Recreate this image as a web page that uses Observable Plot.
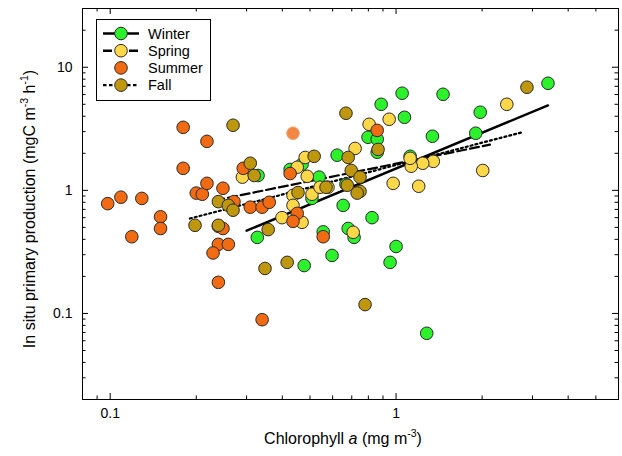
<!DOCTYPE html>
<html><head><meta charset="utf-8">
<script src="https://cdn.jsdelivr.net/npm/d3@7"></script>
<script src="https://cdn.jsdelivr.net/npm/@observablehq/plot@0.6"></script>
<style>
body{margin:0;background:#fff;}
#chart{position:relative;width:622px;height:456px;}
</style></head><body><div id="chart"></div>
<script>
const seasons = ["Winter", "Spring", "Summer", "Fall"];
const seasonColors = ["#2cf22c", "#ffd84a", "#f26b12", "#bf970c"];

const winterChl = [3.40, 1.05, 0.887, 1.46, 1.07, 1.97, 1.90, 1.34, 0.798, 0.859, 0.859, 0.622, 1.12, 0.668, 0.538, 0.469, 0.426, 0.329, 0.508, 0.653, 0.556, 0.597, 0.477, 0.327, 0.824, 0.680, 0.713, 1.00, 0.953, 1.28];
const winterPP  = [7.41, 6.15, 5.00, 6.03, 3.92, 4.31, 2.91, 2.75, 2.70, 2.60, 2.04, 1.93, 1.89, 1.12, 1.28, 1.63, 1.48, 1.32, 0.86, 0.755, 0.46, 0.296, 0.245, 0.415, 0.60, 0.49, 0.415, 0.35, 0.26, 0.069];

const springChl = [2.44, 2.01, 0.805, 0.946, 0.719, 1.35, 1.24, 1.13, 1.12, 0.977, 1.20, 0.481, 0.489, 0.508, 0.542, 0.451, 0.290, 0.436, 0.436, 0.399, 0.469, 0.578, 0.708];
const springPP  = [5.00, 1.45, 3.44, 3.78, 2.19, 1.72, 1.66, 1.57, 1.82, 1.14, 1.08, 1.85, 1.30, 0.93, 1.06, 1.54, 1.28, 0.91, 0.755, 0.60, 0.55, 1.06, 0.456];

const summerChl = [0.098, 0.109, 0.129, 0.119, 0.150, 0.150, 0.180, 0.218, 0.180, 0.200, 0.210, 0.218, 0.248, 0.292, 0.239, 0.248, 0.239, 0.259, 0.229, 0.239, 0.340, 0.271, 0.309, 0.340, 0.360, 0.426, 0.451, 0.436, 0.556, 0.859];
const summerPP  = [0.78, 0.88, 0.86, 0.42, 0.61, 0.49, 3.25, 2.50, 1.51, 0.95, 0.93, 1.14, 1.04, 1.51, 0.51, 0.49, 0.364, 0.364, 0.31, 0.179, 0.089, 0.81, 0.73, 0.73, 0.80, 1.37, 0.65, 0.56, 0.42, 3.07];
const summerFadedChl = [0.436];
const summerFadedPP  = [2.91];

const fallChl = [2.87, 0.668, 0.269, 0.309, 0.319, 0.239, 0.259, 0.269, 0.198, 0.239, 0.357, 0.348, 0.416, 0.779, 0.517, 0.680, 0.865, 0.697, 0.748, 0.748, 0.731, 0.569, 0.454, 0.675];
const fallPP  = [6.88, 4.23, 3.38, 1.66, 1.32, 0.81, 0.755, 0.69, 0.52, 0.52, 0.48, 0.232, 0.26, 0.118, 1.89, 1.85, 2.15, 1.45, 1.28, 0.98, 0.95, 1.06, 0.96, 1.10];

// regression line end points
const winterFitChl = [0.30, 3.40];
const winterFitPP  = [0.47, 4.9];
const springFitChl = [0.233, 2.13];
const springFitPP  = [0.83, 2.35];
const fallFitChl   = [0.19, 2.76];
const fallFitPP    = [0.59, 2.96];

// axis ticks
const xMajorTicks = [0.1, 1];
const xMinorTicks = [0.09, 0.2, 0.3, 0.4, 0.5, 0.6, 0.7, 0.8, 0.9, 2, 3, 4, 5];
const yMajorTicks = [0.1, 1, 10];
const yMinorTicks = [0.03, 0.04, 0.05, 0.06, 0.07, 0.08, 0.09, 0.2, 0.3, 0.4, 0.5, 0.6, 0.7, 0.8, 0.9, 2, 3, 4, 5, 6, 7, 8, 9, 20];

const W = 622, H = 456, mL = 82, mR = 4, mT = 8, mB = 57;
const innerW = W - mL - mR, innerH = H - mT - mB;

function pts(season, xs, ys) { return xs.map((x, i) => ({season, chl: x, pp: ys[i]})); }
const points = [
  ...pts("Winter", winterChl, winterPP),
  ...pts("Spring", springChl, springPP),
  ...pts("Summer", summerChl, summerPP),
  ...pts("Fall", fallChl, fallPP)
];
const faded = pts("Summer", summerFadedChl, summerFadedPP);
const fit = (xs, ys) => xs.map((x, i) => ({chl: x, pp: ys[i]}));

const majLen = 6, minLen = 3.5;
const plot = Plot.plot({
  width: W, height: H,
  marginLeft: mL, marginRight: mR, marginTop: mT, marginBottom: mB,
  style: {fontFamily: "'Liberation Sans', Arial, sans-serif", fontSize: "14px", background: "#fff", color: "#000"},
  x: {type: "log", domain: [0.08, 6]},
  y: {type: "log", domain: [0.02, 30]},
  color: {domain: seasons, range: seasonColors},
  marks: [
    Plot.tickX(xMinorTicks, {x: d => d, insetTop: innerH - minLen, stroke: "#000"}),
    Plot.tickX(xMinorTicks, {x: d => d, insetBottom: innerH - minLen, stroke: "#000"}),
    Plot.tickX(xMajorTicks, {x: d => d, insetTop: innerH - majLen, stroke: "#000"}),
    Plot.tickX(xMajorTicks, {x: d => d, insetBottom: innerH - majLen, stroke: "#000"}),
    Plot.tickY(yMinorTicks, {y: d => d, insetRight: innerW - minLen, stroke: "#000"}),
    Plot.tickY(yMinorTicks, {y: d => d, insetLeft: innerW - minLen, stroke: "#000"}),
    Plot.tickY(yMajorTicks, {y: d => d, insetRight: innerW - majLen, stroke: "#000"}),
    Plot.tickY(yMajorTicks, {y: d => d, insetLeft: innerW - majLen, stroke: "#000"}),
    Plot.axisX({ticks: xMajorTicks, tickSize: 0, tickPadding: 9, tickFormat: d => String(d), label: null, fontSize: 14}),
    Plot.axisY({ticks: yMajorTicks, tickSize: 0, tickPadding: 10, tickFormat: d => String(d), label: null, fontSize: 14}),
    Plot.line(fit(winterFitChl, winterFitPP), {x: "chl", y: "pp", stroke: "#000", strokeWidth: 2.4}),
    Plot.line(fit(springFitChl, springFitPP), {x: "chl", y: "pp", stroke: "#000", strokeWidth: 2.2, strokeDasharray: "9,4"}),
    Plot.line(fit(fallFitChl, fallFitPP), {x: "chl", y: "pp", stroke: "#000", strokeWidth: 2.2, strokeDasharray: "2,3"}),
    Plot.dot(points, {x: "chl", y: "pp", fill: "season", stroke: "#2a2a2a", strokeWidth: 1, r: 6.3}),
    Plot.dot(faded, {x: "chl", y: "pp", fill: "#f07a30", fillOpacity: 0.9, stroke: "#f3a070", strokeWidth: 1, r: 6.3}),
    Plot.frame({stroke: "#000", strokeWidth: 1})
  ]
});
document.getElementById("chart").appendChild(plot);

const svg = d3.select(plot);
const font = "'Liberation Sans', Arial, sans-serif";
// x title
const xt = svg.append("text").attr("x", 343).attr("y", 444).attr("text-anchor", "middle")
  .attr("font-family", font).attr("font-size", 16).attr("fill", "#000");
xt.append("tspan").text("Chlorophyll ");
xt.append("tspan").attr("font-style", "italic").text("a");
xt.append("tspan").text(" (mg m");
xt.append("tspan").attr("font-size", 10.5).attr("dy", -7).text("-3");
xt.append("tspan").attr("dy", 7).text(")");
// y title
const yt = svg.append("text").attr("transform", "translate(35,209) rotate(-90)").attr("text-anchor", "middle")
  .attr("font-family", font).attr("font-size", 16).attr("fill", "#000");
yt.append("tspan").text("In situ primary production (mgC m");
yt.append("tspan").attr("font-size", 10.5).attr("dy", -7).text("-3");
yt.append("tspan").attr("dy", 7).text(" h");
yt.append("tspan").attr("font-size", 10.5).attr("dy", -7).text("-1");
yt.append("tspan").attr("dy", 7).text(")");

// legend
const lg = svg.append("g");
lg.append("rect").attr("x", 96.5).attr("y", 19.5).attr("width", 114).attr("height", 81)
  .attr("fill", "#fff").attr("stroke", "#000").attr("stroke-width", 1);
const rows = [
  {name: "Winter", dash: null, line: true},
  {name: "Spring", dash: "9,4", line: true},
  {name: "Summer", dash: null, line: false},
  {name: "Fall", dash: "3.5,2.5", line: true}
];
rows.forEach((r, i) => {
  const y = 33.5 + i * 17.2;
  if (r.line) {
    lg.append("line").attr("x1", 103).attr("x2", 139).attr("y1", y).attr("y2", y)
      .attr("stroke", "#000").attr("stroke-width", 2.4).attr("stroke-dasharray", r.dash);
  }
  lg.append("circle").attr("cx", 121).attr("cy", y).attr("r", 6.3)
    .attr("fill", seasonColors[seasons.indexOf(r.name)]).attr("stroke", "#2a2a2a").attr("stroke-width", 1);
  lg.append("text").attr("x", 148).attr("y", y + 5).attr("text-anchor", "start")
    .attr("font-family", font).attr("font-size", 14.5).attr("fill", "#000").text(r.name);
});
</script></body></html>
